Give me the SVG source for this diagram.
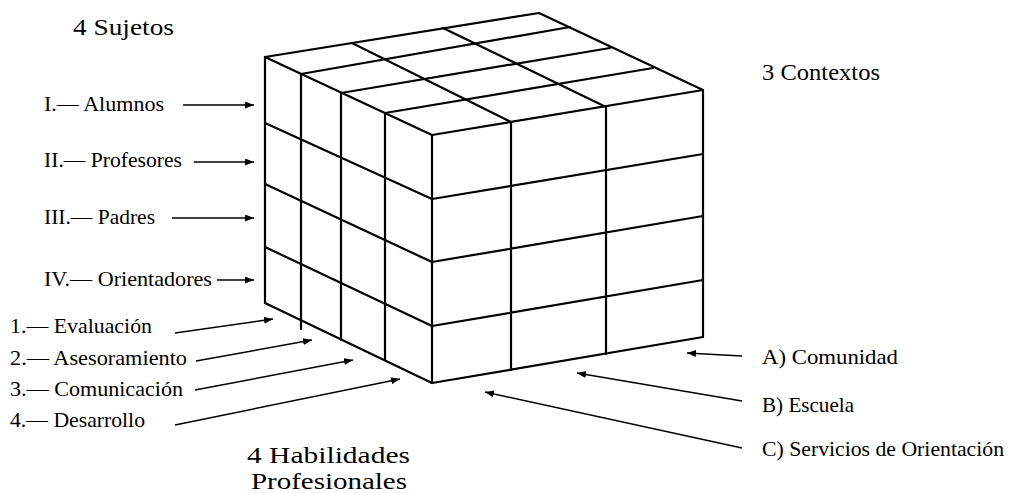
<svg xmlns="http://www.w3.org/2000/svg" width="1012" height="493" viewBox="0 0 1012 493">
<style>
.cube line, .cube polyline { stroke:#000; stroke-width:2.2; fill:none; stroke-linecap:round; stroke-linejoin:round; }
.arr { stroke:#000; stroke-width:1.5; fill:none; marker-end:url(#ah); }
text { font-family:"Liberation Serif","Times New Roman",serif; fill:#000; }
.lbl { font-size:21px; }
.ttl { font-size:23px; }
</style>
<defs>
<marker id="ah" markerUnits="userSpaceOnUse" markerWidth="10" markerHeight="8" refX="9" refY="3.5" orient="auto">
<path d="M0,0 L9,3.5 L0,7 z" fill="#000"/>
</marker>
</defs>
<rect width="1012" height="493" fill="#fff"/>

<g id="cube" class="cube">
  <!-- outline of top face -->
  <polyline points="265,57 539,13 703,90 432,135 265,57"/>
  <!-- top face: width-direction lines -->
  <line x1="301" y1="74" x2="570" y2="27"/>
  <line x1="341" y1="93" x2="610" y2="48"/>
  <line x1="385" y1="113" x2="653" y2="68"/>
  <!-- top face: depth-direction lines -->
  <line x1="352" y1="43" x2="511" y2="122"/>
  <line x1="443" y1="28" x2="606" y2="107"/>
  <!-- left face -->
  <line x1="265" y1="57" x2="265" y2="303"/>
  <line x1="301" y1="74" x2="301" y2="329"/>
  <line x1="341" y1="93" x2="341" y2="340"/>
  <line x1="385" y1="113" x2="385" y2="360"/>
  <line x1="265" y1="123" x2="432" y2="199"/>
  <line x1="265" y1="184" x2="432" y2="262"/>
  <line x1="265" y1="247" x2="432" y2="326"/>
  <line x1="265" y1="303" x2="432" y2="383"/>
  <!-- front corner edge -->
  <line x1="432" y1="135" x2="432" y2="383"/>
  <!-- front-right face -->
  <line x1="511" y1="122" x2="511" y2="370"/>
  <line x1="606" y1="106" x2="606" y2="354"/>
  <line x1="703" y1="90" x2="703" y2="337"/>
  <line x1="432" y1="199" x2="703" y2="154"/>
  <line x1="432" y1="262" x2="703" y2="216"/>
  <line x1="432" y1="326" x2="703" y2="280"/>
  <line x1="432" y1="383" x2="703" y2="337"/>
</g>

<g id="titles">
  <text id="t-sujetos" class="ttl" x="73" y="35" textLength="101" lengthAdjust="spacingAndGlyphs">4 Sujetos</text>
  <text id="t-contextos" class="ttl" x="762" y="80" textLength="118" lengthAdjust="spacingAndGlyphs">3 Contextos</text>
  <text id="t-habilidades" class="ttl" style="font-size:24px" x="247" y="463" textLength="163" lengthAdjust="spacingAndGlyphs">4 Habilidades</text>
  <text id="t-profesionales" class="ttl" style="font-size:24px" x="251" y="489" textLength="156" lengthAdjust="spacingAndGlyphs">Profesionales</text>
</g>

<g id="sujetos">
  <g id="s1"><text class="lbl" x="44" y="111" textLength="120" lengthAdjust="spacingAndGlyphs">I.— Alumnos</text></g>
  <g id="s2"><text class="lbl" x="44" y="167" textLength="138" lengthAdjust="spacingAndGlyphs">II.— Profesores</text></g>
  <g id="s3"><text class="lbl" x="44" y="224" textLength="111" lengthAdjust="spacingAndGlyphs">III.— Padres</text></g>
  <g id="s4"><text class="lbl" x="44" y="286" textLength="168" lengthAdjust="spacingAndGlyphs">IV.— Orientadores</text></g>
</g>

<g id="habilidades">
  <g id="h1"><text class="lbl" x="10" y="333" textLength="142" lengthAdjust="spacingAndGlyphs">1.— Evaluación</text></g>
  <g id="h2"><text class="lbl" x="10" y="365" textLength="177" lengthAdjust="spacingAndGlyphs">2.— Asesoramiento</text></g>
  <g id="h3"><text class="lbl" x="10" y="396" textLength="173" lengthAdjust="spacingAndGlyphs">3.— Comunicación</text></g>
  <g id="h4"><text class="lbl" x="10" y="427" textLength="135" lengthAdjust="spacingAndGlyphs">4.— Desarrollo</text></g>
</g>

<g id="contextos">
  <g id="cA"><text class="lbl" x="762" y="364" textLength="136" lengthAdjust="spacingAndGlyphs">A) Comunidad</text></g>
  <g id="cB"><text class="lbl" x="762" y="412" textLength="92" lengthAdjust="spacingAndGlyphs">B) Escuela</text></g>
  <g id="cC"><text class="lbl" x="762" y="456" textLength="242" lengthAdjust="spacingAndGlyphs">C) Servicios de Orientación</text></g>
</g>

<g id="connectors">
  <line class="arr" x1="183" y1="105" x2="254" y2="105"/>
  <line class="arr" x1="194" y1="162" x2="254" y2="162"/>
  <line class="arr" x1="172" y1="218" x2="254" y2="218"/>
  <line class="arr" x1="217" y1="280" x2="254" y2="280"/>
  <line class="arr" x1="175" y1="333" x2="273" y2="319"/>
  <line class="arr" x1="196" y1="361" x2="312" y2="340"/>
  <line class="arr" x1="195" y1="390" x2="353" y2="360"/>
  <line class="arr" x1="175" y1="425" x2="400" y2="379"/>
  <line class="arr" x1="742" y1="356" x2="687" y2="353"/>
  <line class="arr" x1="742" y1="401" x2="577" y2="373"/>
  <line class="arr" x1="742" y1="448" x2="485" y2="392"/>
</g>
</svg>
